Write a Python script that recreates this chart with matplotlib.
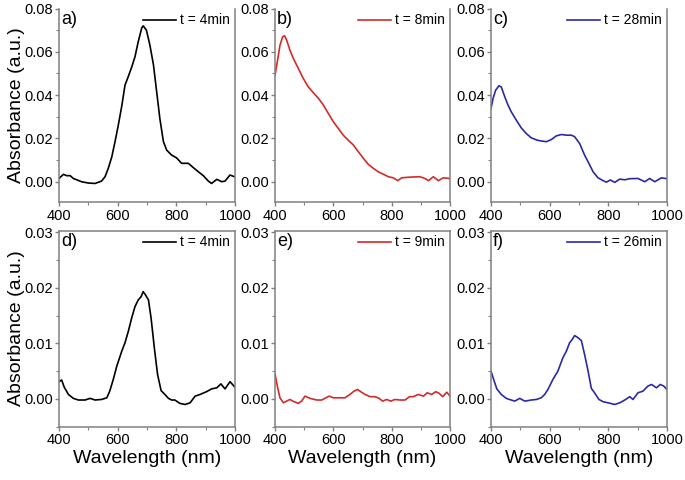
import matplotlib
matplotlib.use("Agg")
import matplotlib.pyplot as plt
from matplotlib.ticker import MultipleLocator

plt.rcParams['font.family'] = ['Liberation Sans', 'DejaVu Sans']

# Spectra (wavelength in nm, absorbance in a.u.)
wl_a = [400, 415, 426, 438, 449, 477, 500, 523, 545, 557, 568, 580, 591, 602, 614, 625, 636, 648, 659, 670,
        682, 687, 698, 710, 722, 733, 744, 756, 767, 784, 801, 818, 841, 858, 875, 892, 909, 920, 938, 955,
        966, 983, 1000]
abs_a = [0.0015, 0.0034, 0.0028, 0.0028, 0.0015, 0.0, -0.0006, -0.0008, 0.0003, 0.0023, 0.0062, 0.0115,
         0.0185, 0.026, 0.035, 0.0446, 0.0485, 0.053, 0.0577, 0.0646, 0.071, 0.072, 0.070, 0.063, 0.054,
         0.0415, 0.029, 0.0185, 0.0146, 0.0123, 0.011, 0.0085, 0.0085, 0.0065, 0.0046, 0.0028, 0.0003,
         -0.0008, 0.0011, 0.0, 0.0003, 0.0031, 0.0022]

wl_b = [400, 408, 417, 426, 433, 440, 451, 463, 480, 497, 514, 531, 549, 566, 583, 600, 617, 634, 651, 669,
        686, 703, 720, 737, 754, 771, 789, 806, 821, 834, 851, 874, 897, 914, 926, 943, 960, 977, 1000]
abs_b = [0.0492, 0.0554, 0.063, 0.0669, 0.0674, 0.0654, 0.0608, 0.0569, 0.0523, 0.0477, 0.0438, 0.0412,
         0.0385, 0.0354, 0.0315, 0.0277, 0.0246, 0.0215, 0.0192, 0.0169, 0.0138, 0.0108, 0.008, 0.0062,
         0.0046, 0.0035, 0.0023, 0.0018, 0.0005, 0.0018, 0.002, 0.0022, 0.0023, 0.0015, 0.0005, 0.0023,
         0.0005, 0.0018, 0.0015]

wl_c = [400, 407, 416, 427, 435, 447, 458, 469, 486, 503, 520, 537, 557, 572, 589, 606, 623, 640, 657, 674,
        685, 702, 719, 731, 748, 765, 782, 793, 807, 822, 839, 856, 873, 901, 924, 941, 958, 981, 1000]
abs_c = [0.0338, 0.0385, 0.0423, 0.0443, 0.0438, 0.0392, 0.0354, 0.0323, 0.0285, 0.0249, 0.0223, 0.0203,
         0.0192, 0.0188, 0.0185, 0.0195, 0.0212, 0.0218, 0.0215, 0.0215, 0.0208, 0.0177, 0.0123, 0.0092,
         0.0046, 0.0018, 0.0005, -0.0002, 0.0008, -0.0003, 0.0012, 0.0009, 0.0014, 0.0015, 0.0, 0.0015,
         0.0, 0.0018, 0.0014]

wl_d = [400, 409, 418, 432, 449, 466, 489, 506, 523, 545, 563, 573, 585, 597, 614, 625, 636, 648, 659, 670,
        680, 687, 695, 705, 714, 725, 736, 748, 761, 773, 784, 795, 812, 830, 847, 864, 881, 903, 920, 938,
        952, 966, 983, 1000]
abs_d = [0.0031, 0.0034, 0.0021, 0.0008, 0.0001, -0.0002, -0.0002, 0.0001, -0.0002, -0.0001, 0.0002,
         0.0014, 0.0035, 0.0059, 0.0086, 0.0101, 0.0121, 0.0146, 0.0166, 0.0178, 0.0184, 0.0193, 0.0187,
         0.0178, 0.0145, 0.0092, 0.0044, 0.0015, 0.0008, 0.0001, -0.0002, -0.0002, -0.0008, -0.001,
         -0.0007, 0.0005, 0.0008, 0.0013, 0.0018, 0.002, 0.0027, 0.0018, 0.0031, 0.0021]

wl_e = [400, 408, 417, 429, 440, 451, 465, 480, 491, 503, 520, 543, 560, 571, 586, 600, 623, 640, 657, 671,
        683, 694, 709, 726, 743, 757, 769, 783, 797, 811, 829, 846, 861, 874, 891, 909, 922, 937, 951, 963,
        975, 989, 1000]
abs_e = [0.0045, 0.0023, 0.0002, -0.0007, -0.0004, -0.0001, -0.0005, -0.0008, -0.0004, 0.0005, 0.0001,
         -0.0002, -0.0002, 0.0001, 0.0005, 0.0002, 0.0002, 0.0002, 0.0008, 0.0014, 0.0017, 0.0013, 0.0008,
         0.0004, 0.0004, 0.0001, -0.0004, -0.0001, -0.0004, -0.0001, -0.0002, -0.0002, 0.0004, 0.0004,
         0.0008, 0.0005, 0.0011, 0.0008, 0.0013, 0.001, 0.0004, 0.0012, 0.0005]

wl_f = [400, 409, 420, 435, 452, 469, 481, 498, 515, 537, 555, 571, 583, 594, 611, 628, 645, 657, 668, 677,
        685, 697, 708, 719, 731, 742, 753, 768, 782, 799, 822, 839, 856, 873, 884, 901, 918, 935, 947, 964,
        977, 989, 1000]
abs_f = [0.005, 0.0035, 0.0018, 0.0008, 0.0001, -0.0002, -0.0004, 0.0001, -0.0004, -0.0002, -0.0001,
         0.0002, 0.0008, 0.0017, 0.0035, 0.005, 0.0074, 0.0086, 0.0101, 0.0107, 0.0114, 0.011, 0.0105,
         0.008, 0.005, 0.0019, 0.0011, -0.0001, -0.0005, -0.0007, -0.001, -0.0007, -0.0002, 0.0004,
         -0.0001, 0.0011, 0.0014, 0.0023, 0.0026, 0.002, 0.0026, 0.0023, 0.0017]

panels = [
    ('a)', wl_a, abs_a, 't = 4min', 'black'),
    ('b)', wl_b, abs_b, 't = 8min', '#d42a2a'),
    ('c)', wl_c, abs_c, 't = 28min', '#2a2aa6'),
    ('d)', wl_d, abs_d, 't = 4min', 'black'),
    ('e)', wl_e, abs_e, 't = 9min', '#d42a2a'),
    ('f)', wl_f, abs_f, 't = 26min', '#2a2aa6'),
]

W, H = 685, 480
fig = plt.figure(figsize=(W / 100, H / 100), dpi=100)

# axes boxes in pixels: (left, right) per column, (top, bottom) per row
cols = [(59, 235), (275, 450), (491, 667)]
rows = [(8.5, 202.3), (230.5, 426.7)]
spine_col = '#808080'

for i, (lab, x, y, leg, col) in enumerate(panels):
    r, c = divmod(i, 3)
    x0, x1 = cols[c]
    t0, b0 = rows[r]
    ax = fig.add_axes([x0 / W, 1 - b0 / H, (x1 - x0) / W, (b0 - t0) / H])
    ax.plot(x, y, color=col, lw=1.2, label=leg)

    ax.set_xlim(400, 1000)
    ax.xaxis.set_major_locator(MultipleLocator(200))
    ax.xaxis.set_minor_locator(MultipleLocator(100))
    if r == 0:
        ax.set_ylim(-0.0095, 0.08)
        ax.yaxis.set_major_locator(MultipleLocator(0.02))
        ax.yaxis.set_minor_locator(MultipleLocator(0.01))
        ax.spines['top'].set_visible(False)
    else:
        ax.set_ylim(-0.005, 0.0303)
        ax.yaxis.set_major_locator(MultipleLocator(0.01))
        ax.yaxis.set_minor_locator(MultipleLocator(0.005))
        ax.set_xlabel('Wavelength (nm)', fontsize=14, labelpad=2)
    ax.yaxis.set_major_formatter(plt.FuncFormatter(lambda v, p: f'{v:.2f}'))

    for s in ax.spines.values():
        s.set_color(spine_col)
        s.set_linewidth(1.1)
    ax.tick_params(which='major', direction='out', length=3, width=1, color=spine_col,
                   labelsize=10.5, top=False, right=False)
    ax.tick_params(axis='y', which='major', pad=1)
    ax.tick_params(axis='x', which='major', pad=1.5)
    ax.tick_params(which='minor', direction='out', length=2, width=0.8, color=spine_col,
                   top=False, right=False)

    if c == 0:
        ax.set_ylabel('Absorbance (a.u.)', fontsize=14, labelpad=0)

    ax.text(0.01, 0.985, lab, transform=ax.transAxes, fontsize=13, ha='left', va='top')
    ax.legend(loc='upper right', frameon=False, fontsize=10, handlelength=2.4,
              handletextpad=0.3, borderaxespad=0.15, borderpad=0.2)

fig.savefig('out.png', dpi=100)
